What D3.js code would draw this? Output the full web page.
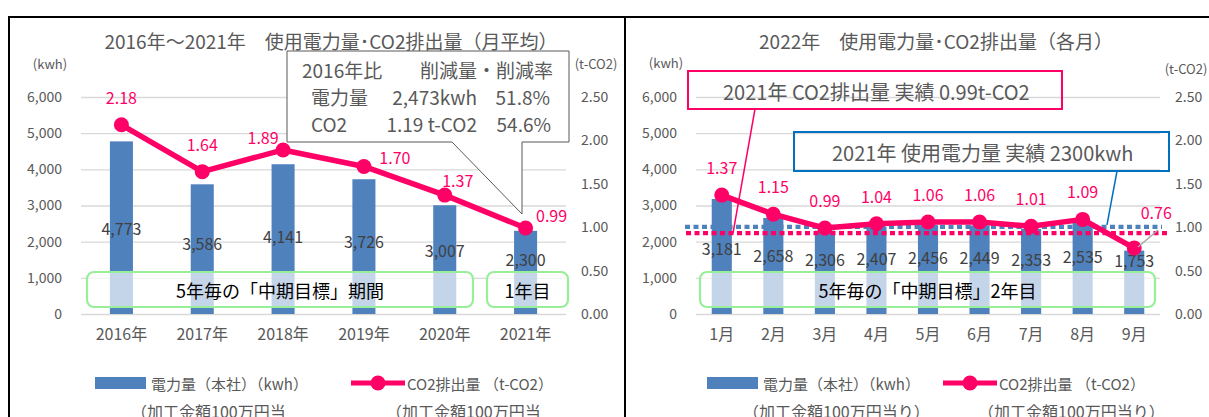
<!DOCTYPE html>
<html>
<head>
<meta charset="utf-8">
<script src="https://cdn.jsdelivr.net/npm/d3@7"></script>
<style>
body{margin:0;background:#fff}
svg{display:block;font-family:"Noto Sans CJK JP","Noto Sans",sans-serif}
</style>
</head>
<body>
<div id="canvas"></div>
<script>
// data
var yearCats = ['2016年','2017年','2018年','2019年','2020年','2021年'];
var yearKwh = [4773, 3586, 4141, 3726, 3007, 2300];
var yearCo2 = [2.18, 1.64, 1.89, 1.70, 1.37, 0.99];

var monthCats = ['1月','2月','3月','4月','5月','6月','7月','8月','9月'];
var monthKwh = [3181, 2658, 2306, 2407, 2456, 2449, 2353, 2535, 1753];
var monthCo2 = [1.37, 1.15, 0.99, 1.04, 1.06, 1.06, 1.01, 1.09, 0.76];

var kwhTicks = [0, 1000, 2000, 3000, 4000, 5000, 6000];
var co2Ticks = [0, 0.5, 1.0, 1.5, 2.0, 2.5];

var ref2021Kwh = 2300;
var ref2021Co2 = 0.99;

// manual nudges of the CO2 labels (dx, dy) as placed in the original
var yearCo2Nudge = [[0,0],[0,0],[-20,15],[31,19],[13,13],[26,15]];
var monthCo2Nudge = [[0,0],[0,0],[0,0],[0,0],[0,0],[0,0],[0,0],[0,0],[22,-8]];

var PINK = '#ff0066', BLUE = '#4f81bd', GREY = '#595959';

var svg = d3.select('#canvas').append('svg').attr('width', 1209).attr('height', 417);

//both panels share the vertical scales
var yL = d3.scaleLinear().domain([0, 6000]).range([314, 97]);
var yR = d3.scaleLinear().domain([0, 2.5]).range([314, 97]);

function panel(o){
    var g = svg.append('g');
    var x = d3.scaleBand().domain(o.cats).range([o.x0, o.x1])
        .paddingInner(1 - o.ratio).paddingOuter((1 - o.ratio) / 2);
    var cx = function(d){ return x(d) + x.bandwidth() / 2; };

    // gridlines
    g.append('g').attr('transform', 'translate(' + o.x0 + ',0)')
        .call(d3.axisLeft(yL).tickValues(kwhTicks).tickSize(-(o.x1 - o.x0)).tickFormat(''))
        .call(function(s){ s.select('.domain').remove(); })
        .selectAll('line').attr('stroke', '#d9d9d9').attr('stroke-width', 1.3);

    // left axis
    g.append('g').attr('transform', 'translate(' + o.x0 + ',0)')
        .call(d3.axisLeft(yL).tickValues(kwhTicks).tickSize(0).tickPadding(19).tickFormat(d3.format(',')))
        .attr('font-family', null).attr('font-size', 14).attr('color', GREY)
        .call(function(s){ s.select('.domain').remove(); });
    // right axis
    g.append('g').attr('transform', 'translate(' + o.x1 + ',0)')
        .call(d3.axisRight(yR).tickValues(co2Ticks).tickSize(0).tickPadding(15).tickFormat(d3.format('.2f')))
        .attr('font-family', null).attr('font-size', 14).attr('color', GREY)
        .call(function(s){ s.select('.domain').remove(); });
    // x axis
    g.append('g').attr('transform', 'translate(0,' + yL(0) + ')')
        .call(d3.axisBottom(x).tickSize(0).tickPadding(15))
        .attr('font-family', null).attr('font-size', 16).attr('color', GREY)
        .call(function(s){ s.select('.domain').remove(); });

    // unit labels
    g.append('text').attr('x', o.kwhUnit[0]).attr('y', o.kwhUnit[1]).attr('text-anchor', 'middle')
        .attr('dominant-baseline', 'central').attr('font-size', 13).attr('fill', GREY).text('(kwh)');
    g.append('text').attr('x', o.co2Unit[0]).attr('y', o.co2Unit[1]).attr('text-anchor', 'middle')
        .attr('dominant-baseline', 'central').attr('font-size', 13).attr('fill', GREY).text('(t-CO2)');

    // title
    g.append('text').attr('x', o.titleX).attr('y', 40).attr('text-anchor', 'middle')
        .attr('dominant-baseline', 'central').attr('font-size', 19).attr('fill', GREY).text(o.title);

    // bars
    g.append('g').selectAll('rect').data(o.kwh).enter().append('rect')
        .attr('x', function(d, i){ return x(o.cats[i]); })
        .attr('width', x.bandwidth())
        .attr('y', function(d){ return yL(d); })
        .attr('height', function(d){ return yL(0) - yL(d); })
        .attr('fill', BLUE);

    // green "中期目標" boxes (semi-transparent white fill)
    o.boxes.forEach(function(b){
        g.append('rect').attr('x', b.x).attr('y', 272).attr('width', b.w).attr('height', 35)
            .attr('rx', 7).attr('fill', 'rgba(255,255,255,0.67)')
            .attr('stroke', '#99ee99').attr('stroke-width', 2.2);
        g.append('text').attr('x', b.x + b.w / 2).attr('y', 290).attr('text-anchor', 'middle')
            .attr('dominant-baseline', 'central').attr('font-size', 18).attr('fill', '#000').text(b.text);
    });

    // bar value labels, sitting in the lower half of each bar
    g.append('g').selectAll('text').data(o.kwh).enter().append('text')
        .attr('x', function(d, i){ return cx(o.cats[i]); })
        .attr('y', function(d){ return Math.min(260, 288 - d * 0.0125); })
        .attr('text-anchor', 'middle').attr('dominant-baseline', 'central')
        .attr('font-size', 16).attr('fill', '#404040')
        .text(d3.format(','));

    o.g = g; o.x = x; o.cx = cx;
    return o;
}

function co2Layer(o){
    var g = o.g, cx = o.cx;
    var line = d3.line().x(function(d, i){ return cx(o.cats[i]); }).y(function(d){ return yR(d); });
    g.append('path').datum(o.co2).attr('d', line).attr('fill', 'none')
        .attr('stroke', PINK).attr('stroke-width', 5.5).attr('stroke-linejoin', 'round');
    g.append('g').selectAll('circle').data(o.co2).enter().append('circle')
        .attr('cx', function(d, i){ return cx(o.cats[i]); })
        .attr('cy', function(d){ return yR(d); })
        .attr('r', 7.5).attr('fill', PINK);
}

function co2Labels(o){
    o.g.append('g').selectAll('text').data(o.co2).enter().append('text')
        .attr('x', function(d, i){ return o.cx(o.cats[i]) + o.nudge[i][0]; })
        .attr('y', function(d, i){ return yR(d) - 28 + o.nudge[i][1]; })
        .attr('text-anchor', 'middle').attr('dominant-baseline', 'central')
        .attr('font-size', 16).attr('fill', PINK)
        .text(d3.format('.2f'));
}

function legend(g, lx, px, row2){
    var y = 383;
    g.append('rect').attr('x', lx).attr('y', y - 6).attr('width', 51).attr('height', 12).attr('fill', BLUE);
    g.append('text').attr('x', lx + 56).attr('y', y).attr('dominant-baseline', 'central')
        .attr('font-size', 15).attr('fill', GREY).text('電力量（本社）（kwh）');
    g.append('line').attr('x1', px).attr('x2', px + 54).attr('y1', y).attr('y2', y)
        .attr('stroke', PINK).attr('stroke-width', 5);
    g.append('circle').attr('cx', px + 27).attr('cy', y).attr('r', 7.5).attr('fill', PINK);
    g.append('text').attr('x', px + 56).attr('y', y).attr('dominant-baseline', 'central')
        .attr('font-size', 15).attr('fill', GREY).text('CO2排出量 （t-CO2）');
    g.append('text').attr('x', lx + 36).attr('y', 411).attr('dominant-baseline', 'central')
        .attr('font-size', 16).attr('fill', GREY).text(row2);
    g.append('text').attr('x', px + 35).attr('y', 411).attr('dominant-baseline', 'central')
        .attr('font-size', 16).attr('fill', GREY).text(row2);
}

// ---------- left panel: yearly ----------
var left = panel({
    cats: yearCats, kwh: yearKwh, co2: yearCo2, nudge: yearCo2Nudge,
    x0: 81, x1: 566, ratio: 0.285,
    title: '2016年～2021年　使用電力量･CO2排出量（月平均）', titleX: 331,
    kwhUnit: [50, 63], co2Unit: [596, 63],
    boxes: [{x: 87, w: 386, text: '5年毎の「中期目標」期間'}, {x: 487, w: 81, text: '1年目'}]
});
co2Layer(left);

//callout with the 2016 comparison
var cg = left.g.append('g');
cg.append('path')
    .attr('d', 'M287,51 H569 V142 H522 V214 L452,142 H287 Z')
    .attr('fill', '#fff').attr('stroke', GREY).attr('stroke-width', 1);
var calloutRows = [
    [[302, 'start', '2016年比'], [553, 'end', '削減量・削減率']],
    [[311, 'start', '電力量'], [477, 'end', '2,473kwh'], [550, 'end', '51.8%']],
    [[311, 'start', 'CO2'], [477, 'end', '1.19 t-CO2'], [551, 'end', '54.6%']]
];
calloutRows.forEach(function(row, r){
    row.forEach(function(c){
        cg.append('text').attr('x', c[0]).attr('y', 69 + r * 27)
            .attr('text-anchor', c[1]).attr('dominant-baseline', 'central')
            .attr('font-size', 19).attr('fill', GREY).text(c[2]);
    });
});
co2Labels(left);
legend(left.g, 95, 351, '（加工金額100万円当');

// ---------- right panel: monthly 2022 ----------
var right = panel({
    cats: monthCats, kwh: monthKwh, co2: monthCo2, nudge: monthCo2Nudge,
    x0: 696, x1: 1160, ratio: 0.39,
    title: '2022年　使用電力量･CO2排出量（各月）', titleX: 936,
    kwhUnit: [666, 62], co2Unit: [1186, 68],
    boxes: [{x: 700, w: 455, text: '5年毎の「中期目標」2年目'}]
});

//2021 reference lines (dotted)
var rg = right.g;
rg.append('line').attr('x1', 685).attr('x2', 1162)
    .attr('y1', yL(ref2021Kwh) - 4).attr('y2', yL(ref2021Kwh) - 4)
    .attr('stroke', BLUE).attr('stroke-width', 4.3).attr('stroke-dasharray', '5,3.5');
rg.append('line').attr('x1', 686).attr('x2', 1170)
    .attr('y1', yR(ref2021Co2) + 5).attr('y2', yR(ref2021Co2) + 5)
    .attr('stroke', PINK).attr('stroke-width', 4.3).attr('stroke-dasharray', '5,3.5');

co2Layer(right);
co2Labels(right);

// leader for the 0.76 label
rg.append('line').attr('x1', 1158).attr('y1', 230).attr('x2', 1138).attr('y2', 247)
    .attr('stroke', '#a6a6a6').attr('stroke-width', 1.5);

// 2021 result boxes
rg.append('rect').attr('x', 688).attr('y', 71).attr('width', 374).attr('height', 38)
    .attr('fill', 'none').attr('stroke', PINK).attr('stroke-width', 2);
rg.append('text').attr('x', 723).attr('y', 91).attr('dominant-baseline', 'central')
    .attr('font-size', 20).attr('fill', GREY).text('2021年 CO2排出量 実績 0.99t-CO2');
rg.append('line').attr('x1', 755).attr('y1', 109).attr('x2', 733).attr('y2', yR(ref2021Co2) + 5)
    .attr('stroke', PINK).attr('stroke-width', 1.5);

rg.append('rect').attr('x', 794).attr('y', 132).attr('width', 375).attr('height', 39)
    .attr('fill', 'none').attr('stroke', '#0070c0').attr('stroke-width', 2);
rg.append('text').attr('x', 832).attr('y', 152).attr('dominant-baseline', 'central')
    .attr('font-size', 20).attr('fill', GREY).text('2021年 使用電力量 実績 2300kwh');
rg.append('line').attr('x1', 1117).attr('y1', 171).attr('x2', 1107).attr('y2', yL(ref2021Kwh) - 6)
    .attr('stroke', '#0070c0').attr('stroke-width', 1.5);

legend(rg, 707, 943, '（加工金額100万円当り）');

// panel frames
svg.append('path').attr('d', 'M9,417 V17 H1209 M625,17 V417')
    .attr('fill', 'none').attr('stroke', '#000').attr('stroke-width', 2);
</script>
</body>
</html>
